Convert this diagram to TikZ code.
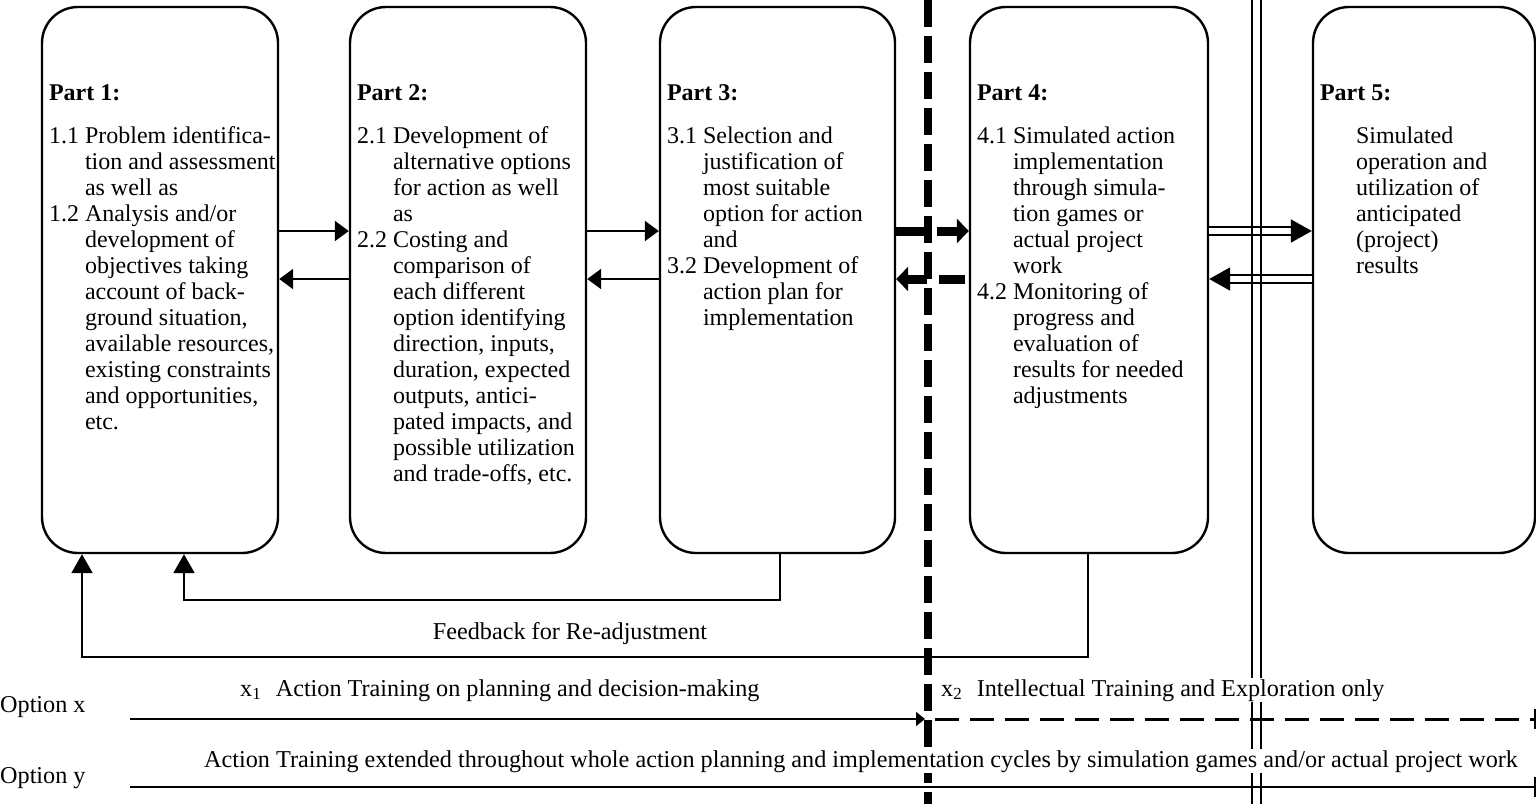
\documentclass[tikz,border=0pt]{standalone}
\usepackage{fontspec}
\setmainfont{Liberation Serif}
\usetikzlibrary{arrows.meta,calc}

\newcommand{\numgap}{\hspace{6pt}}

\begin{document}
\begin{tikzpicture}[x=1pt,y=-1pt,
  partbox/.style={draw, line width=2.4pt, rounded corners=36pt,
    minimum height=546pt, inner sep=0pt},
  parthead/.style={anchor=base west, inner sep=0pt,
    font=\fontsize{24}{26}\selectfont\bfseries},
  parttext/.style={anchor=base west, inner sep=0pt,
    font=\fontsize{24}{26}\selectfont},
  label/.style={inner sep=0pt, font=\fontsize{24.2}{26}\selectfont},
  thinarrow/.style={line width=2.2pt, -{Triangle[length=14pt,width=20pt]}},
  fbarrow/.style={line width=2.2pt, -{Triangle[length=19pt,width=21pt]}},
  thickarrow/.style={line width=9pt, -{Triangle[length=12pt,width=24pt]}},
  dblarrow/.style={double, line width=2pt, double distance=5.5pt,
    -{Triangle[length=21pt,width=23pt]}},
  optline/.style={line width=1.8pt},
]
\useasboundingbox (0,0) rectangle (1536,804);

% the five stages
\node[partbox, minimum width=236pt] (b1) at (160,280) {};
\node[partbox, minimum width=236pt] (b2) at (468,280) {};
\node[partbox, minimum width=235pt] (b3) at (777.5,280) {};
\node[partbox, minimum width=238pt] (b4) at (1089,280) {};
\node[partbox, minimum width=222pt] (b5) at (1424,280) {};

% headings
\node[parthead] (h1) at ($(b1.north west)+(8,95)$) {Part 1:};
\node[parthead] (h2) at ($(b2.north west)+(8,95)$) {Part 2:};
\node[parthead] (h3) at ($(b3.north west)+(8,95)$) {Part 3:};
\node[parthead] (h4) at ($(b4.north west)+(8,95)$) {Part 4:};
\node[parthead] (h5) at ($(b5.north west)+(8,95)$) {Part 5:};

% contents
\node[parttext] (l1) at ($(b1.north west)+(8,138)$) {%
\begin{tabular}[t]{@{}l@{\numgap}l@{}}
1.1 & Problem identifica-\\
 & tion and assessment\\
 & as well as\\
1.2 & Analysis and/or\\
 & development of\\
 & objectives taking\\
 & account of back-\\
 & ground situation,\\
 & available resources,\\
 & existing constraints\\
 & and opportunities,\\
 & etc.
\end{tabular}};

\node[parttext] (l2) at ($(b2.north west)+(8,138)$) {%
\begin{tabular}[t]{@{}l@{\numgap}l@{}}
2.1 & Development of\\
 & alternative options\\
 & for action as well\\
 & as\\
2.2 & Costing and\\
 & comparison of\\
 & each different\\
 & option identifying\\
 & direction, inputs,\\
 & duration, expected\\
 & outputs, antici-\\
 & pated impacts, and\\
 & possible utilization\\
 & and trade-offs, etc.
\end{tabular}};

\node[parttext] (l3) at ($(b3.north west)+(8,138)$) {%
\begin{tabular}[t]{@{}l@{\numgap}l@{}}
3.1 & Selection and\\
 & justification of\\
 & most suitable\\
 & option for action\\
 & and\\
3.2 & Development of\\
 & action plan for\\
 & implementation
\end{tabular}};

\node[parttext] (l4) at ($(b4.north west)+(8,138)$) {%
\begin{tabular}[t]{@{}l@{\numgap}l@{}}
4.1 & Simulated action\\
 & implementation\\
 & through simula-\\
 & tion games or\\
 & actual project\\
 & work\\
4.2 & Monitoring of\\
 & progress and\\
 & evaluation of\\
 & results for needed\\
 & adjustments
\end{tabular}};

\node[parttext] (l5) at ($(b5.north west)+(8,138)$) {%
\begin{tabular}[t]{@{}l@{\numgap}l@{}}
\phantom{5.1} & Simulated\\
 & operation and\\
 & utilization of\\
 & anticipated\\
 & (project)\\
 & results
\end{tabular}};

% levels of the forward and backward links
\coordinate (ya) at (0,231);
\coordinate (yb) at (0,279);

\draw[thinarrow] (b1.east |- ya) -- (b2.west |- ya);
\draw[thinarrow] (b2.west |- yb) -- (b1.east |- yb);
\draw[thinarrow] (b2.east |- ya) -- (b3.west |- ya);
\draw[thinarrow] (b3.west |- yb) -- (b2.east |- yb);

% feedback loops
\coordinate (fa) at (780,600);
\coordinate (fb) at (184,600);
\coordinate (fc) at (1088,657);
\coordinate (fd) at (82,657);
\draw[fbarrow] (b3.south -| fa) -- (fa) -- (fb) -- (b1.south -| fb);
\draw[fbarrow] (b4.south -| fc) -- (fc) -- (fd) -- (b1.south -| fd);
\node[label, anchor=base] (fbl) at (570,639) {Feedback for Re-adjustment};

% boundary between planning and implementation
\coordinate (vt) at (928,0);
\coordinate (vb) at (928,804);
\draw[line width=7.5pt, dash pattern=on 27pt off 9pt] (vt) -- (vb);

\draw[thickarrow, dash pattern=on 29pt off 12pt on 100pt]
  (b3.east |- ya) -- (b4.west |- ya);
\draw[thickarrow, dash pattern=on 0pt off 4pt on 26pt off 12pt on 100pt]
  (b4.west |- yb) -- (b3.east |- yb);

% links to the operation stage
\draw[dblarrow] (b4.east |- ya) -- (b5.west |- ya);
\draw[dblarrow] (b5.west |- yb) -- (b4.east |- yb);

% boundary before operation
\coordinate (wa) at (1252,0);
\coordinate (wb) at (1252,804);
\coordinate (wc) at (1261,0);
\coordinate (wd) at (1261,804);
\draw[line width=1.6pt] (wa) -- (wb);
\draw[line width=1.6pt] (wc) -- (wd);

% option x
\node[label, anchor=base west] (ox) at (0,712) {Option x};
\coordinate (oxs) at (130,719);
\coordinate (oxm) at (925,719);
\coordinate (oxd) at (935,719);
\coordinate (oxe) at (1535,719);
\draw[optline, -{Triangle[length=9pt,width=14pt]}] (oxs) -- (oxm);
\draw[line width=3pt, dash pattern=on 24pt off 11pt] (oxd) -- (oxe);
\draw[line width=2pt] ($(oxe)+(0,-10)$) -- ($(oxe)+(0,10)$);
\node[label, anchor=base west] (x1) at (240,696)
  {x\textsubscript{1}\hspace{0.6em}Action Training on planning and decision-making};
\node[label, anchor=base west, fill=white, inner sep=1pt] (x2) at (940,696)
  {x\textsubscript{2}\hspace{0.6em}Intellectual Training and Exploration only};

% option y
\node[label, anchor=base west] (oy) at (0,783) {Option y};
\coordinate (oys) at (130,787);
\coordinate (oye) at (1535,787);
\draw[optline] (oys) -- (oye);
\draw[line width=2pt] ($(oye)+(0,-10)$) -- ($(oye)+(0,10)$);
\node[label, anchor=base west, fill=white, inner sep=1pt] (ey) at (203,767)
  {Action Training extended throughout whole action planning and implementation cycles by simulation games and/or actual project work};
\end{tikzpicture}
\end{document}
